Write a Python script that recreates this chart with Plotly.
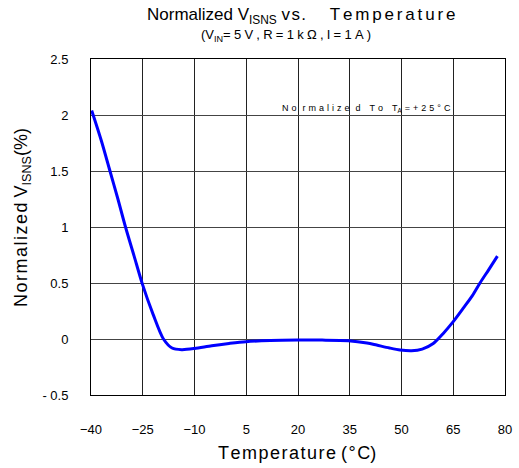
import plotly.graph_objects as go

temperature = [-39.8, -37.0, -34.5, -32.2, -30.0, -27.5, -25.1, -22.0, -19.0, -16.5, -13.7, -10.0, -5.0,
               0.0, 4.9, 12.0, 19.9, 27.0, 34.6, 40.0, 42.8, 46.5, 49.6, 52.9, 56.0, 59.2, 62.1, 65.0,
               67.9, 70.5, 72.75, 75.3, 77.8]
v_isns = [2.04, 1.77, 1.50, 1.25, 1.00, 0.74, 0.49, 0.22, 0.00, -0.08, -0.095, -0.085, -0.06,
          -0.04, -0.024, -0.014, -0.01, -0.01, -0.015, -0.035, -0.054, -0.08, -0.098, -0.105, -0.09, -0.04, 0.05, 0.155,
          0.275, 0.385, 0.50, 0.62, 0.74]

x_ticks = [-40, -25, -10, 5, 20, 35, 50, 65, 80]
y_ticks = [-0.5, 0, 0.5, 1, 1.5, 2, 2.5]
y_ticktext = ["- 0.5", "0", "0.5", "1", "1.5", "2", "2.5"]

FONT = "Liberation Sans, Arial, sans-serif"
sp = "\u2004"
hs = "\u200a"
ts = "\u2009"
nb = "\u00a0"

note = sp.join("No") + sp + sp + sp.join("rmalize") + sp + sp + "d" + sp + sp + sp + sp.join("To") + sp + sp + sp + "T<sub>A</sub>" + sp + sp.join("=+25°C")
subtitle = "(V<sub>IN</sub>" + "\u2005".join("=5V,R=1kΩ,I=1A)")
title = "Normalized V<sub>ISNS</sub>" + nb + hs.join("vs.") + nb * 5 + (hs + hs).join("Temperature")
xtitle = hs.join("Temperature") + nb + "(" + hs + "°" + hs + "C)"
ytitle = hs.join("Normalized") + nb + "V<sub>ISNS</sub>(%)"

fig = go.Figure()
fig.add_trace(go.Scatter(x=temperature, y=v_isns, mode="lines",
                         line=dict(color="#0000FF", width=3, shape="spline", smoothing=0.8),
                         showlegend=False, hoverinfo="skip"))

fig.update_layout(
    width=519, height=468,
    margin=dict(l=91, r=14, t=59, b=73),
    paper_bgcolor="white", plot_bgcolor="white",
    font=dict(family=FONT, color="black", size=13),
    xaxis=dict(range=[-40, 80], tickvals=x_ticks, showgrid=True, gridcolor="#222", gridwidth=1,
               showline=True, linecolor="black", linewidth=1, mirror=True, zeroline=False,
               ticks="", ticklabelstandoff=22, tickfont=dict(size=13), automargin=False),
    yaxis=dict(range=[-0.5, 2.5], tickvals=y_ticks, ticktext=y_ticktext, showgrid=True,
               gridcolor="#444", gridwidth=1, showline=True, linecolor="black", linewidth=1,
               mirror=True, zeroline=False, ticks="", ticklabelstandoff=19, tickfont=dict(size=13),
               automargin=False),
    annotations=[
        dict(text=title, x=145, y=16, font=dict(size=17), xanchor="left"),
        dict(text=subtitle, x=199, y=35, font=dict(size=13), xanchor="left"),
        dict(text=note, x=366, y=108, font=dict(size=9)),
        dict(text=xtitle, x=297, y=453, font=dict(size=18)),
        dict(text=ytitle, x=22, y=218, font=dict(size=18), textangle=-90),
    ],
)
# convert pixel annotation positions to paper coords
pw, ph = 519 - 91 - 14, 468 - 59 - 73
for a in fig.layout.annotations:
    a.showarrow = False
    a.xref = "paper"; a.yref = "paper"
    a.x = (a.x - 91) / pw
    a.y = ((468 - a.y) - 73) / ph
    if a.xanchor is None:
        a.xanchor = "center"
    a.yanchor = "middle"

fig.write_html("out.html", config={"displayModeBar": False},
               post_script="document.body.style.margin='0';document.body.style.overflow='hidden';")
